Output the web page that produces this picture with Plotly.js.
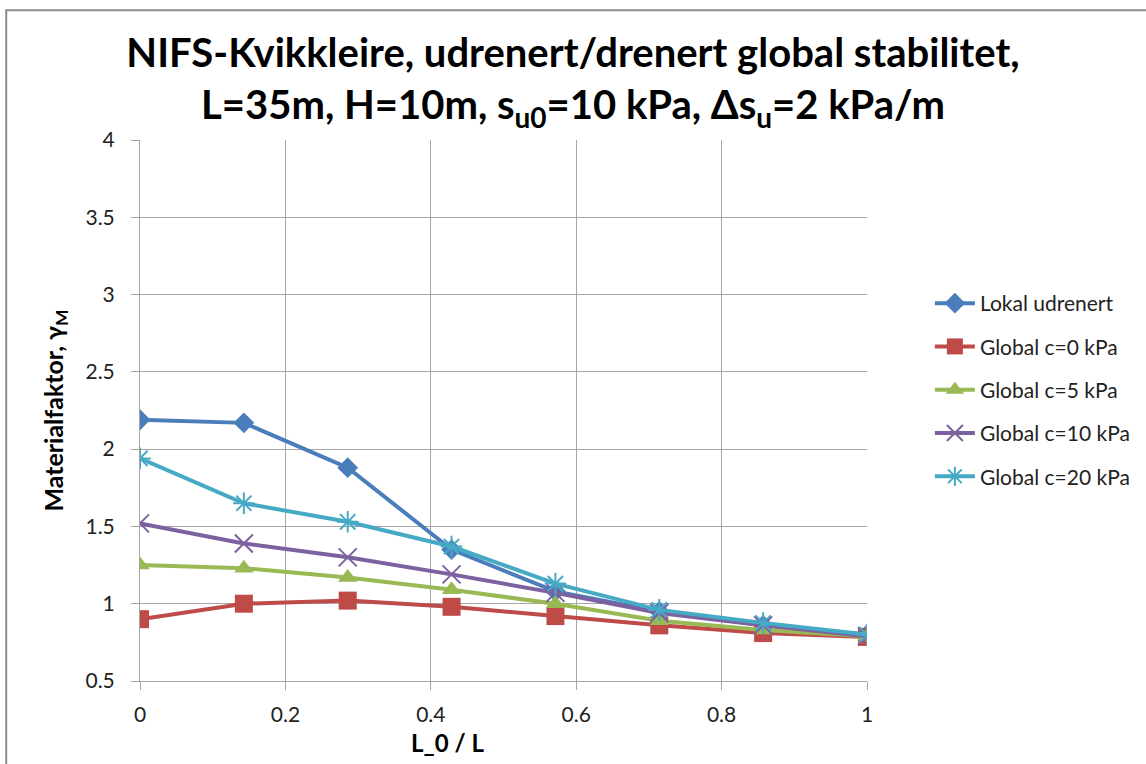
<!DOCTYPE html>
<html>
<head>
<meta charset="utf-8">
<script src="https://cdn.plot.ly/plotly-3.0.1.min.js"></script>
<style>html,body{margin:0;padding:0;background:#fff;}#chart{width:1146px;height:764px;}</style>
</head>
<body>
<div id="chart"></div>
<script>
const xValues = [0, 1/7, 2/7, 3/7, 4/7, 5/7, 6/7, 1];
const seriesNames = ["Lokal udrenert", "Global c=0 kPa", "Global c=5 kPa", "Global c=10 kPa", "Global c=20 kPa"];
const lokalUdrenert = [2.19, 2.17, 1.88, 1.35, 1.08, 0.95, 0.86, 0.80];
const globalC0 = [0.90, 1.00, 1.02, 0.98, 0.92, 0.86, 0.81, 0.785];
const globalC5 = [1.25, 1.23, 1.17, 1.09, 1.00, 0.89, 0.83, 0.79];
const globalC10 = [1.52, 1.39, 1.30, 1.19, 1.07, 0.94, 0.86, 0.79];
const globalC20 = [1.94, 1.65, 1.53, 1.37, 1.13, 0.96, 0.875, 0.80];
const xTicks = [0, 0.2, 0.4, 0.6, 0.8, 1];
const yTicks = [0.5, 1, 1.5, 2, 2.5, 3, 3.5, 4];
const xTitle = "L_0 / L";
const yTitle = "Materialfaktor, γ<sub>M</sub>";

const FONT = "Lato, 'Open Sans', sans-serif";
const styles = [
  {color: "#4a7ebb", symbol: "diamond", size: 16, lw: 0},
  {color: "#be4b48", symbol: "square", size: 18, lw: 0},
  {color: "#98b954", symbol: "triangle-up", size: 17, lw: 0},
  {color: "#7d60a0", symbol: "x-thin-open", size: 18, lw: 2},
  {color: "#46aac5", symbol: "asterisk-open", size: 18, lw: 2}
];
const allSeries = [lokalUdrenert, globalC0, globalC5, globalC10, globalC20];

const traces = allSeries.map((ys, i) => ({
  x: xValues, y: ys, type: "scatter", mode: "lines+markers",
  name: seriesNames[i], legendgroup: "g" + i,
  line: {color: styles[i].color, width: 4},
  marker: {symbol: styles[i].symbol, size: styles[i].size, color: styles[i].color,
           line: {color: styles[i].color, width: styles[i].lw}}
}));

const layout = {
  width: 1146, height: 764,
  margin: {l: 140, r: 278, t: 140, b: 83},
  paper_bgcolor: "#ffffff", plot_bgcolor: "#ffffff",
  font: {family: FONT, color: "#222"},
  title: {
    text: "NIFS-Kvikkleire, udrenert/drenert global stabilitet,<br>L=35m, H=10m, s<sub>u0</sub>=10 kPa, Δs<sub>u</sub>=2 kPa/m",
    font: {family: FONT, size: 40, color: "#000", weight: 700},
    x: 0.5, xref: "container", xanchor: "center", y: 0.912, yanchor: "middle"
  },
  xaxis: {
    range: [0, 1], tickvals: xTicks, ticktext: xTicks.map(String),
    showgrid: true, gridcolor: "#a6a6a6", gridwidth: 1,
    showline: true, linecolor: "#a6a6a6", linewidth: 1,
    ticks: "outside", ticklen: 8, tickcolor: "#a6a6a6", ticklabelstandoff: 7,
    tickfont: {family: FONT, size: 21, color: "#222"},
    zeroline: false
  },
  yaxis: {
    range: [0.5, 4], tickvals: yTicks, ticktext: yTicks.map(String),
    showgrid: true, gridcolor: "#a6a6a6", gridwidth: 1,
    showline: true, linecolor: "#a6a6a6", linewidth: 1,
    ticks: "outside", ticklen: 8, tickcolor: "#a6a6a6", ticklabelstandoff: 12,
    tickfont: {family: FONT, size: 21, color: "#222"},
    zeroline: false,
    title: {text: yTitle, font: {family: FONT, size: 25, color: "#000", weight: 700}, standoff: 14}
  },
  annotations: [{
    text: xTitle, xref: "paper", yref: "paper", x: 0.423, y: -0.114,
    xanchor: "center", yanchor: "middle", showarrow: false,
    font: {family: FONT, size: 24, color: "#000", weight: 700}
  }],
  legend: {
    x: 1.085, xanchor: "left", y: 0.7357, yanchor: "top",
    font: {family: FONT, size: 21, color: "#222"},
    tracegroupgap: 13, bgcolor: "rgba(0,0,0,0)", itemwidth: 40
  },
  showlegend: true,
  shapes: [{type: "rect", xref: "paper", yref: "paper", x0: -0.184, x1: 1.5, y0: -0.3, y1: 1.240,
            line: {color: "#8c8c8c", width: 2}, fillcolor: "rgba(0,0,0,0)", layer: "below"}]
};

Plotly.newPlot("chart", traces, layout, {displayModeBar: false, staticPlot: true});
</script>
</body>
</html>
